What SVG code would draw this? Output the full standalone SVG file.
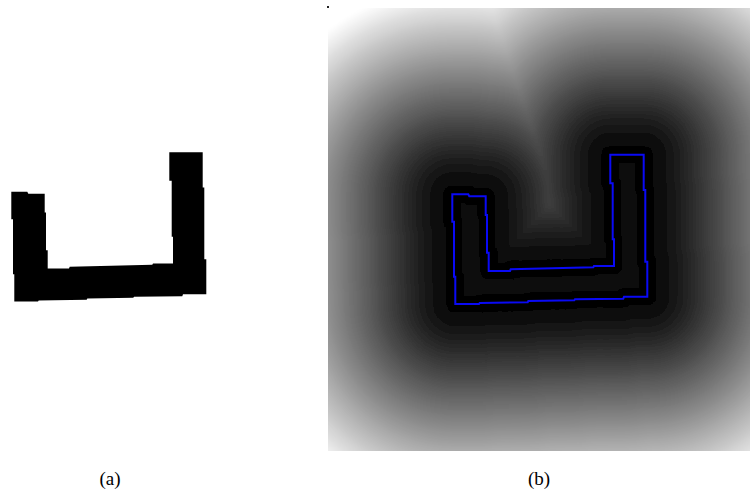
<svg xmlns="http://www.w3.org/2000/svg" xmlns:xlink="http://www.w3.org/1999/xlink" width="750" height="494" viewBox="0 0 750 494">
<style>
.lay use{stroke-linejoin:round}
.lbl{font-family:"Liberation Serif","DejaVu Serif",serif;font-size:19px;fill:#000;text-anchor:middle}
</style>
<defs>
<polygon id="U" points="452.3,194.3 468.3,194.3 469.3,196.3 485.7,196.3 485.7,215 487,215 487,252.7 488.7,252.7 488.7,271 510,271 510.7,269.3 552.3,268.3 593.3,267.3 594,266 614,266 614,239.3 612.7,239.3 612.7,183.3 610.3,183.3 610.3,154.7 643.7,154.7 643.7,190 645.3,190 645.3,261.7 647.3,261.7 647.3,296.7 624,296.7 623.3,298.7 575,299.3 574.3,300.3 528.3,301 527.7,302.3 479.7,303 479,304 455.3,304 455.3,276.7 454,276.7 454,221.7 452.3,221.7"/>
<clipPath id="panel"><rect x="328" y="8" width="422" height="443"/></clipPath>
<clipPath id="inside"><use xlink:href="#U"/></clipPath>
<filter id="soft" filterUnits="userSpaceOnUse" x="300" y="-20" width="480" height="500"><feGaussianBlur stdDeviation="2.2"/></filter>
</defs>

<g id="panel-a">
<use xlink:href="#U" transform="translate(-441,-2.5)" fill="#000"/>
</g>

<g id="panel-b">
<g clip-path="url(#panel)">
<rect x="328" y="8" width="422" height="443" fill="#fff"/>
<g class="lay" filter="url(#soft)">
<use xlink:href="#U" fill="rgb(255,255,255)" stroke="rgb(255,255,255)" stroke-width="416"/>
<use xlink:href="#U" fill="rgb(249,249,249)" stroke="rgb(249,249,249)" stroke-width="408"/>
<use xlink:href="#U" fill="rgb(244,244,244)" stroke="rgb(244,244,244)" stroke-width="400"/>
<use xlink:href="#U" fill="rgb(238,238,238)" stroke="rgb(238,238,238)" stroke-width="392"/>
<use xlink:href="#U" fill="rgb(232,232,232)" stroke="rgb(232,232,232)" stroke-width="384"/>
<use xlink:href="#U" fill="rgb(226,226,226)" stroke="rgb(226,226,226)" stroke-width="376"/>
<use xlink:href="#U" fill="rgb(220,220,220)" stroke="rgb(220,220,220)" stroke-width="368"/>
<use xlink:href="#U" fill="rgb(215,215,215)" stroke="rgb(215,215,215)" stroke-width="360"/>
<use xlink:href="#U" fill="rgb(209,209,209)" stroke="rgb(209,209,209)" stroke-width="352"/>
<use xlink:href="#U" fill="rgb(203,203,203)" stroke="rgb(203,203,203)" stroke-width="344"/>
<use xlink:href="#U" fill="rgb(197,197,197)" stroke="rgb(197,197,197)" stroke-width="336"/>
<use xlink:href="#U" fill="rgb(192,192,192)" stroke="rgb(192,192,192)" stroke-width="328"/>
<use xlink:href="#U" fill="rgb(186,186,186)" stroke="rgb(186,186,186)" stroke-width="320"/>
<use xlink:href="#U" fill="rgb(181,181,181)" stroke="rgb(181,181,181)" stroke-width="312"/>
<use xlink:href="#U" fill="rgb(175,175,175)" stroke="rgb(175,175,175)" stroke-width="304"/>
<use xlink:href="#U" fill="rgb(170,170,170)" stroke="rgb(170,170,170)" stroke-width="296"/>
<use xlink:href="#U" fill="rgb(164,164,164)" stroke="rgb(164,164,164)" stroke-width="288"/>
<use xlink:href="#U" fill="rgb(159,159,159)" stroke="rgb(159,159,159)" stroke-width="280"/>
<use xlink:href="#U" fill="rgb(153,153,153)" stroke="rgb(153,153,153)" stroke-width="272"/>
<use xlink:href="#U" fill="rgb(148,148,148)" stroke="rgb(148,148,148)" stroke-width="264"/>
<use xlink:href="#U" fill="rgb(142,142,142)" stroke="rgb(142,142,142)" stroke-width="256"/>
<use xlink:href="#U" fill="rgb(137,137,137)" stroke="rgb(137,137,137)" stroke-width="248"/>
<use xlink:href="#U" fill="rgb(132,132,132)" stroke="rgb(132,132,132)" stroke-width="240"/>
<use xlink:href="#U" fill="rgb(127,127,127)" stroke="rgb(127,127,127)" stroke-width="232"/>
<use xlink:href="#U" fill="rgb(121,121,121)" stroke="rgb(121,121,121)" stroke-width="224"/>
<use xlink:href="#U" fill="rgb(116,116,116)" stroke="rgb(116,116,116)" stroke-width="216"/>
<use xlink:href="#U" fill="rgb(111,111,111)" stroke="rgb(111,111,111)" stroke-width="208"/>
<use xlink:href="#U" fill="rgb(106,106,106)" stroke="rgb(106,106,106)" stroke-width="200"/>
<use xlink:href="#U" fill="rgb(101,101,101)" stroke="rgb(101,101,101)" stroke-width="192"/>
<use xlink:href="#U" fill="rgb(96,96,96)" stroke="rgb(96,96,96)" stroke-width="184"/>
<use xlink:href="#U" fill="rgb(91,91,91)" stroke="rgb(91,91,91)" stroke-width="176"/>
<use xlink:href="#U" fill="rgb(86,86,86)" stroke="rgb(86,86,86)" stroke-width="168"/>
<use xlink:href="#U" fill="rgb(81,81,81)" stroke="rgb(81,81,81)" stroke-width="160"/>
<use xlink:href="#U" fill="rgb(76,76,76)" stroke="rgb(76,76,76)" stroke-width="152"/>
<use xlink:href="#U" fill="rgb(71,71,71)" stroke="rgb(71,71,71)" stroke-width="144"/>
<use xlink:href="#U" fill="rgb(67,67,67)" stroke="rgb(67,67,67)" stroke-width="136"/>
<use xlink:href="#U" fill="rgb(62,62,62)" stroke="rgb(62,62,62)" stroke-width="128"/>
<use xlink:href="#U" fill="rgb(57,57,57)" stroke="rgb(57,57,57)" stroke-width="120"/>
<use xlink:href="#U" fill="rgb(55,55,55)" stroke="rgb(55,55,55)" stroke-width="116"/>
<use xlink:href="#U" fill="rgb(53,53,53)" stroke="rgb(53,53,53)" stroke-width="112"/>
<use xlink:href="#U" fill="rgb(51,51,51)" stroke="rgb(51,51,51)" stroke-width="108"/>
<use xlink:href="#U" fill="rgb(48,48,48)" stroke="rgb(48,48,48)" stroke-width="104"/>
<use xlink:href="#U" fill="rgb(46,46,46)" stroke="rgb(46,46,46)" stroke-width="100"/>
<use xlink:href="#U" fill="rgb(44,44,44)" stroke="rgb(44,44,44)" stroke-width="96"/>
<use xlink:href="#U" fill="rgb(42,42,42)" stroke="rgb(42,42,42)" stroke-width="92"/>
<use xlink:href="#U" fill="rgb(40,40,40)" stroke="rgb(40,40,40)" stroke-width="88"/>
<use xlink:href="#U" fill="rgb(37,37,37)" stroke="rgb(37,37,37)" stroke-width="84"/>
<use xlink:href="#U" fill="rgb(35,35,35)" stroke="rgb(35,35,35)" stroke-width="80"/>
<use xlink:href="#U" fill="rgb(33,33,33)" stroke="rgb(33,33,33)" stroke-width="76"/>
<use xlink:href="#U" fill="rgb(31,31,31)" stroke="rgb(31,31,31)" stroke-width="72"/>
<use xlink:href="#U" fill="rgb(29,29,29)" stroke="rgb(29,29,29)" stroke-width="68"/>
<use xlink:href="#U" fill="rgb(27,27,27)" stroke="rgb(27,27,27)" stroke-width="64"/>
<use xlink:href="#U" fill="rgb(25,25,25)" stroke="rgb(25,25,25)" stroke-width="60"/>
<use xlink:href="#U" fill="rgb(23,23,23)" stroke="rgb(23,23,23)" stroke-width="56"/>
<use xlink:href="#U" fill="rgb(21,21,21)" stroke="rgb(21,21,21)" stroke-width="52"/>
<use xlink:href="#U" fill="rgb(19,19,19)" stroke="rgb(19,19,19)" stroke-width="48"/>
<use xlink:href="#U" fill="rgb(17,17,17)" stroke="rgb(17,17,17)" stroke-width="44"/>
<use xlink:href="#U" fill="rgb(15,15,15)" stroke="rgb(15,15,15)" stroke-width="40"/>
<use xlink:href="#U" fill="rgb(14,14,14)" stroke="rgb(14,14,14)" stroke-width="36"/>
<use xlink:href="#U" fill="rgb(12,12,12)" stroke="rgb(12,12,12)" stroke-width="32"/>
<use xlink:href="#U" fill="rgb(10,10,10)" stroke="rgb(10,10,10)" stroke-width="28"/>
<use xlink:href="#U" fill="rgb(8,8,8)" stroke="rgb(8,8,8)" stroke-width="24"/>
<use xlink:href="#U" fill="rgb(7,7,7)" stroke="rgb(7,7,7)" stroke-width="20"/>
<use xlink:href="#U" fill="rgb(5,5,5)" stroke="rgb(5,5,5)" stroke-width="16"/>
<use xlink:href="#U" fill="rgb(4,4,4)" stroke="rgb(4,4,4)" stroke-width="12"/>
<use xlink:href="#U" fill="rgb(2,2,2)" stroke="rgb(2,2,2)" stroke-width="8"/>
<use xlink:href="#U" fill="rgb(1,1,1)" stroke="rgb(1,1,1)" stroke-width="4"/>
<g clip-path="url(#inside)">
<use xlink:href="#U" fill="rgb(10,10,10)"/>
<use xlink:href="#U" fill="none" stroke="rgb(7,7,7)" stroke-width="24"/>
<use xlink:href="#U" fill="none" stroke="rgb(4,4,4)" stroke-width="16"/>
<use xlink:href="#U" fill="none" stroke="rgb(2,2,2)" stroke-width="8"/>
</g>
</g>
</g>
<rect x="327" y="6" width="2" height="2" fill="#222"/>
<use xlink:href="#U" fill="none" stroke="#0a0af5" stroke-width="2"/>
</g>

<g id="labels">
<text class="lbl" x="110" y="485">(a)</text>
<text class="lbl" x="539" y="485">(b)</text>
</g>
</svg>
